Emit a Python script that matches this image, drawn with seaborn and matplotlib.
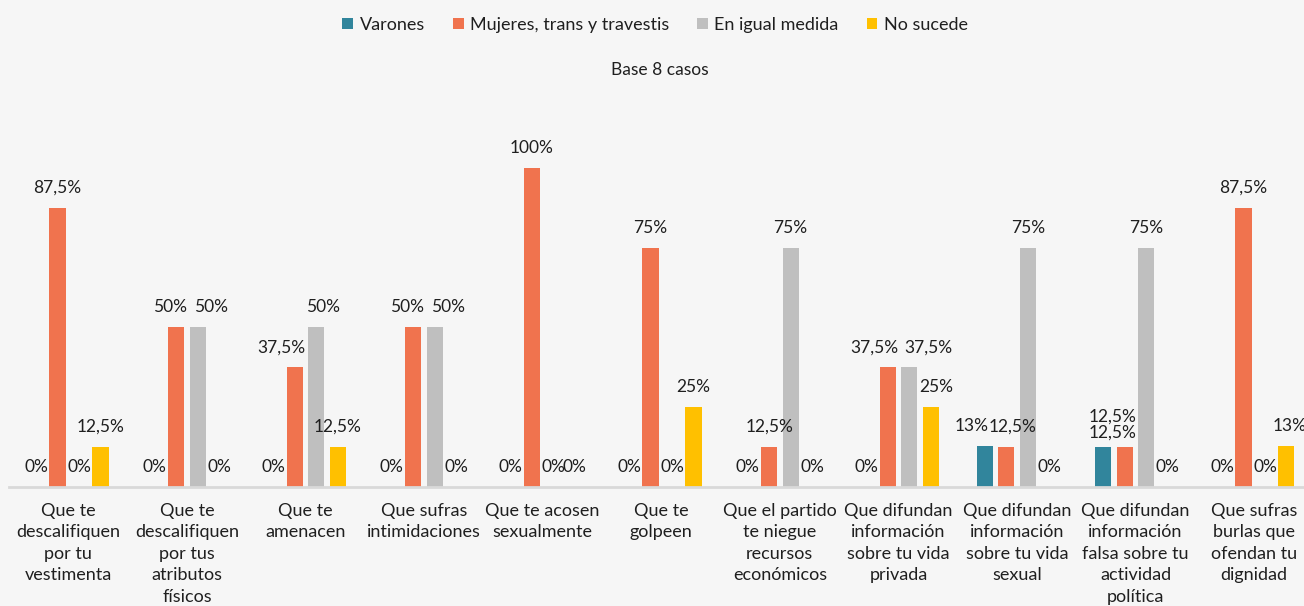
import matplotlib
matplotlib.use("Agg")
import matplotlib.pyplot as plt
import seaborn as sns
import pandas as pd
from matplotlib.patches import Patch

categories = [
    "Que te\ndescalifiquen\npor tu\nvestimenta",
    "Que te\ndescalifiquen\npor tus\natributos\nfísicos",
    "Que te\namenacen",
    "Que sufras\nintimidaciones",
    "Que te acosen\nsexualmente",
    "Que te\ngolpeen",
    "Que el partido\nte niegue\nrecursos\neconómicos",
    "Que difundan\ninformación\nsobre tu vida\nprivada",
    "Que difundan\ninformación\nsobre tu vida\nsexual",
    "Que difundan\ninformación\nfalsa sobre tu\nactividad\npolítica",
    "Que sufras\nburlas que\nofendan tu\ndignidad",
]
series = ["Varones", "Mujeres, trans y travestis", "En igual medida", "No sucede"]
varones = [0, 0, 0, 0, 0, 0, 0, 0, 13, 12.5, 0]
mujeres = [87.5, 50, 37.5, 50, 100, 75, 12.5, 37.5, 12.5, 12.5, 87.5]
igual = [0, 50, 50, 50, 0, 0, 75, 37.5, 75, 75, 0]
no_sucede = [12.5, 0, 12.5, 0, 0, 25, 0, 25, 0, 0, 13]
colors = ["#31859c", "#f0734e", "#bfbfbf", "#ffc000"]
title = "Base 8 casos"

values = [varones, mujeres, igual, no_sucede]
rows = []
for s, vals in zip(series, values):
    for c, v in zip(categories, vals):
        rows.append({"cat": c, "serie": s, "val": v})
df = pd.DataFrame(rows)

sns.set_theme(style="white")
plt.rcParams["font.family"] = ["Lato", "DejaVu Sans"]
bg = "#f6f6f6"
txt = "#1f1f1f"
fig = plt.figure(figsize=(13.04, 6.06), dpi=100, facecolor=bg)
ax = fig.add_axes([9 / 1304, (606 - 487) / 606, (1304 - 9) / 1304, 383 / 606])
ax.set_facecolor(bg)

sns.barplot(data=df, x="cat", y="val", hue="serie", order=categories,
            hue_order=series, palette=colors, width=0.725, gap=0.25,
            legend=False, ax=ax, saturation=1, edgecolor="none")

ax.set_ylim(0, 120)
ax.set_xlim(-0.5, 10.42)
ax.set_xlabel("")
ax.set_ylabel("")
ax.set_yticks([])
for sp in ["top", "right", "left"]:
    ax.spines[sp].set_visible(False)
ax.spines["bottom"].set_color("#d9d9d9")
ax.spines["bottom"].set_linewidth(2)
ax.tick_params(axis="x", length=0, pad=11.5, labelsize=13, colors=txt)
for t in ax.get_xticklabels():
    t.set_linespacing(1.42)

def fmt(v):
    return ("%g" % v).replace(".", ",") + "%"

# label nudges in pixels: (series index, category index) -> (dx, dy up)
adjust = {
    (1, 1): (-6, 0), (2, 1): (13, 0),
    (1, 2): (-13, 0), (2, 2): (7, 0),
    (1, 3): (-6, 0), (2, 3): (13, 0),
    (1, 7): (-13, 0), (2, 7): (19, 0), (3, 7): (6, 0),
    (0, 8): (-13, 0), (1, 8): (6, 0),
    (0, 9): (9, 10), (1, 9): (-12, -6),
    (3, 10): (3, 0),
}

for si, cont in enumerate(ax.containers):
    for ci, bar in enumerate(cont):
        v = values[si][ci]
        x = bar.get_x() + bar.get_width() / 2
        dx, dy = adjust.get((si, ci), (0, 0))
        ax.annotate(fmt(v), (x, v), xytext=(dx * 0.72, (20 + dy) * 0.72),
                    textcoords="offset points", ha="center", va="center",
                    fontsize=12.5, color=txt, annotation_clip=False)

handles = [Patch(facecolor=c, edgecolor="none") for c in colors]
fig.legend(handles, series, loc="center", bbox_to_anchor=(655 / 1304, 1 - 25 / 606),
           ncol=4, frameon=False, fontsize=13, handlelength=0.6, handleheight=0.6,
           handletextpad=0.35, columnspacing=1.55, labelcolor=txt)
fig.text(660 / 1304, 1 - 70 / 606, title, ha="center", va="center", fontsize=12.5, color=txt)

fig.savefig("out.png", dpi=100, facecolor=bg)
